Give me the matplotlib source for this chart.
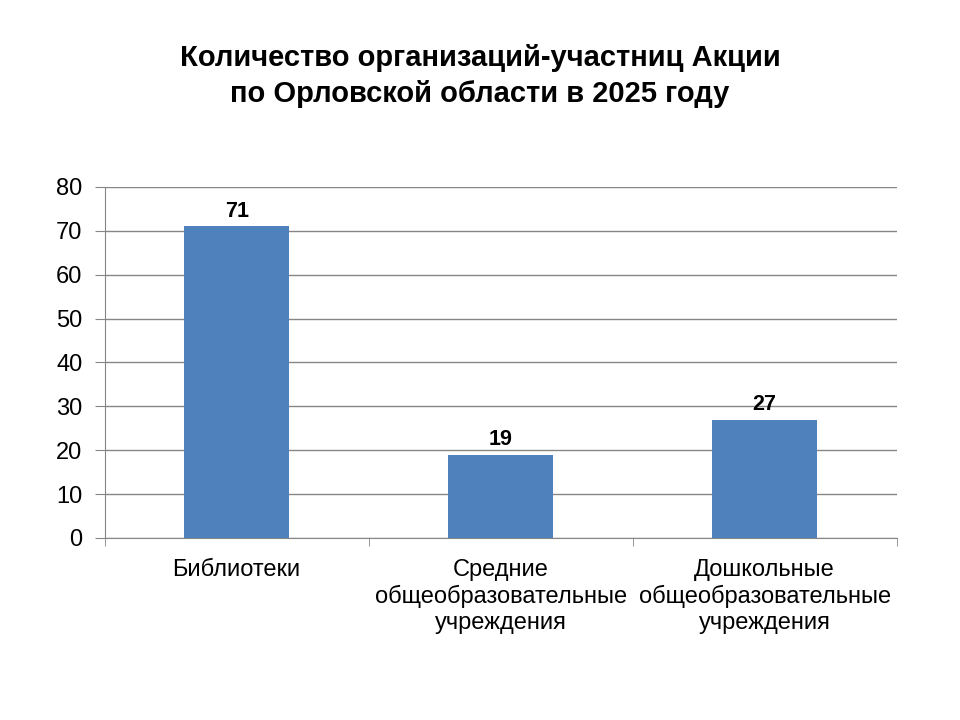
import matplotlib.pyplot as plt

plt.rcParams["font.family"] = ["Liberation Sans", "DejaVu Sans"]

categories = [
    "Библиотеки",
    "Средние\nобщеобразовательные\nучреждения",
    "Дошкольные\nобщеобразовательные\nучреждения",
]
values = [71, 19, 27]
yticks = [0, 10, 20, 30, 40, 50, 60, 70, 80]
title = "Количество организаций-участниц Акции\nпо Орловской области в 2025 году"

BAR_COLOR = "#4F81BD"
GRID_COLOR = "#868686"

fig = plt.figure(figsize=(9.6, 7.2), dpi=100)
ax = fig.add_axes([0.109, 0.2528, 0.825, 0.4875])

x = list(range(len(categories)))
bars = ax.bar(x, values, width=0.4, color=BAR_COLOR, zorder=3)
for b, v in zip(bars, values):
    ax.annotate(str(v), (b.get_x() + b.get_width() / 2, v), xytext=(0, 7),
                textcoords="offset points", ha="center", va="baseline",
                fontsize=15.5, fontweight="bold")

ax.set_xlim(-0.5, len(categories) - 0.5)
ax.set_ylim(0, 80)
ax.set_yticks(yticks)
ax.tick_params(axis="y", labelsize=17, length=7, color=GRID_COLOR, pad=9)
ax.yaxis.grid(True, color=GRID_COLOR, linewidth=1, zorder=0)

# category labels centered, tick marks on boundaries
ax.set_xticks(x)
ax.set_xticklabels(categories, fontsize=17, linespacing=1.22)
ax.tick_params(axis="x", length=0, pad=15)
ax.set_xticks([i - 0.5 for i in range(len(categories) + 1)], minor=True)
ax.tick_params(axis="x", which="minor", length=6, color=GRID_COLOR, direction="out")

for side in ["top", "right"]:
    ax.spines[side].set_visible(False)
for side in ["left", "bottom"]:
    ax.spines[side].set_color(GRID_COLOR)

fig.text(0.5, 0.895, title, ha="center", va="center", fontsize=21,
         fontweight="bold", linespacing=1.36)

fig.savefig("out.png", dpi=100)
